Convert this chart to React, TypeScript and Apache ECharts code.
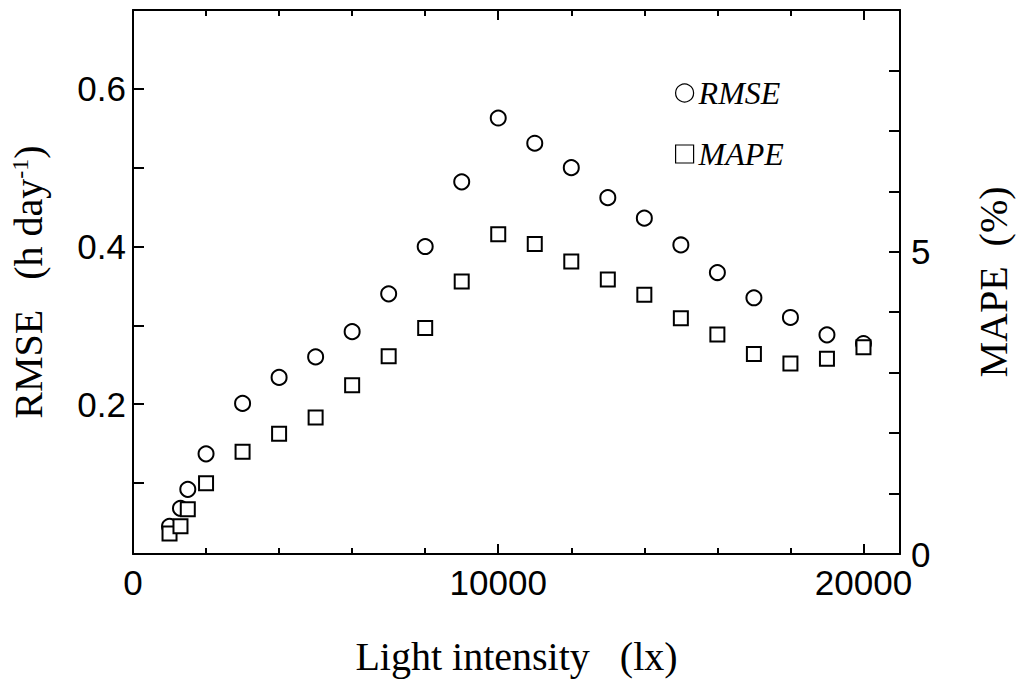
import React, { useEffect, useRef } from "react";
import * as echarts from "echarts";

// Light intensity (lx)
const lightIntensity = [1000, 1300, 1500, 2000, 3000, 4000, 5000, 6000, 7000, 8000, 9000, 10000, 11000, 12000, 13000, 14000, 15000, 16000, 17000, 18000, 19000, 20000];
// RMSE (h day-1), left axis
const rmseValues = [0.045, 0.068, 0.092, 0.137, 0.201, 0.234, 0.26, 0.292, 0.34, 0.4, 0.482, 0.563, 0.531, 0.5, 0.462, 0.436, 0.402, 0.367, 0.335, 0.31, 0.288, 0.277];
// MAPE (%), right axis
const mapeValues = [0.34, 0.46, 0.74, 1.17, 1.69, 1.99, 2.26, 2.79, 3.27, 3.74, 4.51, 5.29, 5.13, 4.84, 4.54, 4.29, 3.9, 3.63, 3.31, 3.15, 3.23, 3.42];

const xTickLabels = ["0", "10000", "20000"];
const rmseTickLabels = ["0.2", "0.4", "0.6"];
const mapeTickLabels = ["0", "5"];

const SANS = "'Liberation Sans', Arial, Helvetica, sans-serif";
const SERIF = "'Liberation Serif', 'Times New Roman', Times, serif";
const NB = "\u00a0";

function pick(labels: string[], value: number) {
  const hit = labels.find((l) => Math.abs(parseFloat(l) - value) < 1e-6);
  return hit ?? "";
}

export default function App() {
  const ref = useRef<HTMLDivElement>(null);

  useEffect(() => {
    document.body.style.margin = "0";
    if (!ref.current) return;
    const chart = echarts.init(ref.current, undefined, { renderer: "svg" });

    const axisLine = { show: true, onZero: false, lineStyle: { color: "#000", width: 2 } };
    const tickStyle = { color: "#000", width: 2 };

    const option: any = {
      animation: false,
      backgroundColor: "#fff",
      grid: { left: 132, top: 10, right: 124, bottom: 134, containLabel: false },
      legend: {
        orient: "vertical",
        left: 670,
        top: 72,
        itemWidth: 18,
        itemHeight: 18,
        itemGap: 29,
        data: [
          { name: "RMSE", icon: "circle" },
          { name: "MAPE", icon: "rect" },
        ],
        itemStyle: { color: "#fff", borderColor: "#000", borderWidth: 1.2 },
        textStyle: { fontFamily: SERIF, fontStyle: "italic", fontSize: 32, color: "#000", lineHeight: 32 },
      },
      xAxis: [
        {
          type: "value",
          position: "bottom",
          min: 0,
          max: 21000,
          interval: 2000,
          axisLine,
          axisTick: { show: true, inside: true, length: 6, lineStyle: tickStyle },
          axisLabel: {
            color: "#000",
            fontFamily: SANS,
            fontSize: 35,
            lineHeight: 26,
            margin: 15,
            formatter: (v: number) => pick(xTickLabels, v),
          },
          splitLine: { show: false },
          name: "Light intensity" + NB + NB + NB + "(lx)",
          nameLocation: "middle",
          nameGap: 82,
          nameTextStyle: { fontFamily: SERIF, fontSize: 40, color: "#000" },
        },
        {
          type: "value",
          position: "bottom",
          min: 0,
          max: 21000,
          interval: 10000,
          axisLine: { show: false, onZero: false },
          axisTick: { show: true, inside: true, length: 10, lineStyle: tickStyle },
          axisLabel: { show: false },
          splitLine: { show: false },
        },
        {
          type: "value",
          position: "top",
          min: 0,
          max: 21000,
          interval: 2000,
          axisLine,
          axisTick: { show: true, inside: true, length: 6, lineStyle: tickStyle },
          axisLabel: { show: false },
          splitLine: { show: false },
        },
        {
          type: "value",
          position: "top",
          min: 0,
          max: 21000,
          interval: 10000,
          axisLine: { show: false, onZero: false },
          axisTick: { show: true, inside: true, length: 10, lineStyle: tickStyle },
          axisLabel: { show: false },
          splitLine: { show: false },
        },
      ],
      yAxis: [
        {
          type: "value",
          position: "left",
          min: 0.01,
          max: 0.7,
          splitNumber: 7,
          axisLine,
          axisTick: { show: true, inside: true, length: 11, lineStyle: tickStyle },
          axisLabel: {
            color: "#000",
            fontFamily: SANS,
            fontSize: 35,
            lineHeight: 26,
            margin: 7,
            showMinLabel: true,
            showMaxLabel: true,
            formatter: (v: number) => pick(rmseTickLabels, v),
          },
          splitLine: { show: false },
          name: "{a|RMSE" + NB + NB + NB + "(h day}{s|-1}{a|)}",
          nameLocation: "middle",
          nameRotate: 90,
          nameGap: 85,
          nameTextStyle: {
            rich: {
              a: { fontFamily: SERIF, fontSize: 40, color: "#000", lineHeight: 40 },
              s: { fontFamily: SERIF, fontSize: 24, color: "#000", lineHeight: 24, verticalAlign: "top" },
            },
          },
        },
        {
          type: "value",
          position: "right",
          min: 0,
          max: 9,
          interval: 1,
          axisLine,
          axisTick: { show: true, inside: true, length: 11, lineStyle: tickStyle },
          axisLabel: {
            color: "#000",
            fontFamily: SANS,
            fontSize: 35,
            lineHeight: 26,
            margin: 11,
            formatter: (v: number) => pick(mapeTickLabels, v),
          },
          splitLine: { show: false },
          name: "MAPE" + NB + NB + "(%)",
          nameLocation: "middle",
          nameRotate: 90,
          nameGap: 73,
          nameTextStyle: { fontFamily: SERIF, fontSize: 40, color: "#000" },
        },
      ],
      series: [
        {
          name: "RMSE",
          type: "scatter",
          xAxisIndex: 0,
          yAxisIndex: 0,
          symbol: "circle",
          symbolSize: 15,
          itemStyle: { color: "#fff", borderColor: "#000", borderWidth: 2, opacity: 1 },
          data: lightIntensity.map((x, i) => [x, rmseValues[i]]),
        },
        {
          name: "MAPE",
          type: "scatter",
          xAxisIndex: 0,
          yAxisIndex: 1,
          symbol: "rect",
          symbolSize: 14,
          itemStyle: { color: "#fff", borderColor: "#000", borderWidth: 2, opacity: 1 },
          data: lightIntensity.map((x, i) => [x, mapeValues[i]]),
        },
      ],
    };

    chart.setOption(option);
    return () => chart.dispose();
  }, []);

  return <div ref={ref} style={{ width: 1024, height: 688 }} />;
}
